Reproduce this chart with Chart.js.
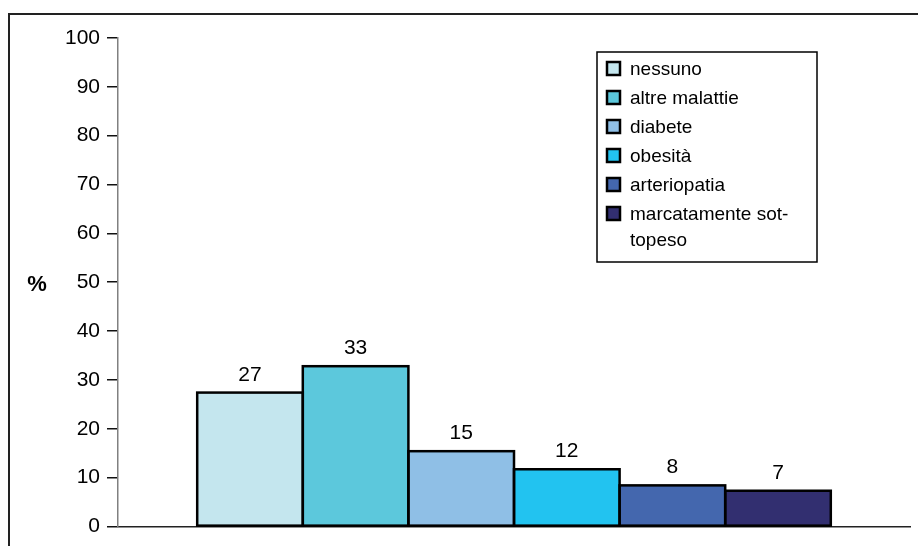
<!DOCTYPE html>
<html>
<head>
<meta charset="utf-8">
<script src="https://cdn.jsdelivr.net/npm/chart.js@4"></script>
<style>
  html, body { margin: 0; padding: 0; background: #fff; }
  #wrap { width: 918px; height: 546px; }
</style>
</head>
<body>
<div id="wrap"><canvas id="myChart" width="918" height="546"></canvas></div>
<script>
// data (percent)
const seriesNames = ["nessuno", "altre malattie", "diabete", "obesità", "arteriopatia", ["marcatamente sot-", "topeso"]];
const seriesValues = [27.4, 32.8, 15.4, 11.7, 8.4, 7.3];
const seriesColors = ["#C4E6EE", "#5CC8DC", "#8FBFE6", "#22C3F0", "#4467AE", "#322F70"];
const yTicks = [0, 10, 20, 30, 40, 50, 60, 70, 80, 90, 100];
const categories = [""];

const FONT = "'Liberation Sans', Arial, sans-serif";

// frame round the whole picture (only left and top edges are visible)
const framePlugin = {
  id: "frame",
  afterDraw(chart) {
    const ctx = chart.ctx;
    ctx.save();
    ctx.strokeStyle = "#222";
    ctx.lineWidth = 2;
    ctx.beginPath();
    ctx.moveTo(9, chart.height);
    ctx.lineTo(9, 14);
    ctx.lineTo(chart.width, 14);
    ctx.stroke();
    // "%" title, horizontal
    ctx.fillStyle = "#000";
    ctx.font = "bold 22px " + FONT;
    ctx.textAlign = "center";
    ctx.textBaseline = "middle";
    ctx.fillText("%", 37, 285);
    ctx.restore();
  },
};

// black outline centred on each bar edge + value labels above
const barDecor = {
  id: "barDecor",
  afterDatasetsDraw(chart) {
    const ctx = chart.ctx;
    ctx.save();
    ctx.strokeStyle = "#000";
    ctx.lineWidth = 2.5;
    chart.data.datasets.forEach((ds, i) => {
      const bar = chart.getDatasetMeta(i).data[0];
      ctx.strokeRect(bar.x - bar.width / 2, bar.y, bar.width, bar.base - bar.y);
    });
    ctx.fillStyle = "#000";
    ctx.font = "21px " + FONT;
    ctx.textAlign = "center";
    ctx.textBaseline = "alphabetic";
    chart.data.datasets.forEach((ds, i) => {
      const bar = chart.getDatasetMeta(i).data[0];
      ctx.fillText(Math.round(ds.data[0]), bar.x, bar.y - 12);
    });
    ctx.restore();
  },
};

// boxed legend in the upper right of the plot
const boxLegend = {
  id: "boxLegend",
  afterDraw(chart) {
    const ctx = chart.ctx;
    const x0 = 597, y0 = 52, w = 220, h = 210;
    ctx.save();
    ctx.fillStyle = "#fff";
    ctx.fillRect(x0, y0, w, h);
    ctx.strokeStyle = "#000";
    ctx.lineWidth = 1.5;
    ctx.strokeRect(x0, y0, w, h);
    ctx.font = "19px " + FONT;
    ctx.textAlign = "left";
    ctx.textBaseline = "middle";
    let y = 70;
    chart.data.datasets.forEach((ds) => {
      ctx.fillStyle = ds.backgroundColor;
      ctx.fillRect(607, y - 8, 13, 13);
      ctx.lineWidth = 2.5;
      ctx.strokeStyle = "#000";
      ctx.strokeRect(607, y - 8, 13, 13);
      ctx.fillStyle = "#000";
      const lines = Array.isArray(ds.label) ? ds.label : [ds.label];
      lines.forEach((t, k) => ctx.fillText(t, 630, y + k * 26));
      y += 29;
    });
    ctx.restore();
  },
};

const datasets = seriesValues.map((v, i) => ({
  label: seriesNames[i],
  data: [v],
  backgroundColor: seriesColors[i],
  borderWidth: 0,
  categoryPercentage: 0.8,
  barPercentage: 1.0,
}));

const config = {
  type: "bar",
  data: { labels: categories, datasets: datasets },
  plugins: [framePlugin, barDecor, boxLegend],
  options: {
    responsive: false,
    animation: false,
    layout: { padding: { left: 0, top: 38, right: 8, bottom: 0 } },
    plugins: {
      legend: { display: false },
      tooltip: { enabled: false },
    },
    scales: {
      x: {
        ticks: { display: false },
        grid: { display: false },
        border: { display: true, color: "#222", width: 1.5 },
        afterFit: (scale) => { scale.height = 18; },
      },
      y: {
        min: 0,
        max: 100,
        afterBuildTicks: (scale) => { scale.ticks = yTicks.map((v) => ({ value: v })); },
        ticks: {
          color: "#000",
          font: { family: FONT, size: 21 },
          padding: 7,
        },
        grid: { drawOnChartArea: false, drawTicks: true, tickLength: 11, color: "#111", lineWidth: 1.5 },
        border: { display: true, color: "#808080", width: 1.5 },
        afterFit: (scale) => { scale.width = 118; },
      },
    },
  },
};

const myChart = new Chart(document.getElementById("myChart"), config);
</script>
</body>
</html>
